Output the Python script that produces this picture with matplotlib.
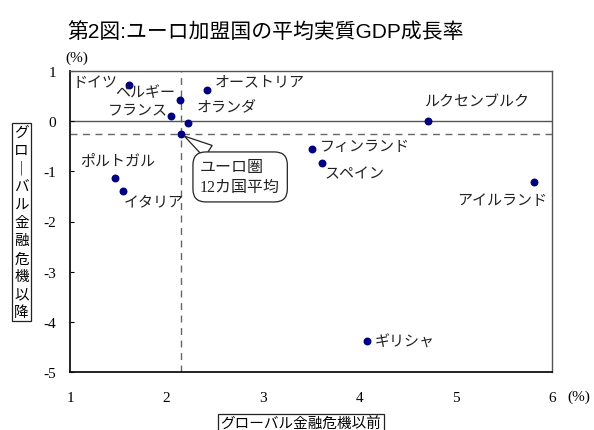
import matplotlib.pyplot as plt

# 各国データ（グローバル金融危機以前 / 以降の平均実質GDP成長率, %）
countries = ['ドイツ', 'ベルギー', 'フランス', 'オランダ', 'オーストリア', 'ポルトガル',
             'イタリア', 'ルクセンブルク', 'フィンランド', 'スペイン', 'アイルランド', 'ギリシャ']
before = [1.61, 2.14, 2.05, 2.22, 2.42, 1.47, 1.55, 4.71, 3.51, 3.61, 5.81, 4.08]
after = [0.73, 0.43, 0.10, -0.04, 0.63, -1.14, -1.40, 0.00, -0.55, -0.84, -1.22, -4.38]

# ユーロ圏12カ国平均
euro_before = 2.15
euro_after = -0.25

x_ticks = [1, 2, 3, 4, 5, 6]
y_ticks = [1, 0, -1, -2, -3, -4, -5]

# ラベル位置（データ座標, 左端・中央）
label_pos = {
    'ドイツ': (1.03, 0.77),
    'ベルギー': (1.47, 0.59),
    'フランス': (1.39, 0.23),
    'オランダ': (2.31, 0.27),
    'オーストリア': (2.50, 0.79),
    'ポルトガル': (1.10, -0.79),
    'イタリア': (1.56, -1.61),
    'ルクセンブルク': (4.68, 0.39),
    'フィンランド': (3.59, -0.51),
    'スペイン': (3.64, -1.05),
    'アイルランド': (5.02, -1.59),
    'ギリシャ': (4.16, -4.40),
}

jp = ['Liberation Serif', 'Noto Sans CJK JP']
plt.rcParams['font.family'] = jp

fig = plt.figure(figsize=(5.94, 4.31), dpi=100)
ax = fig.add_axes([70 / 594, 1 - 372.7 / 431, 482 / 594, 300.4 / 431])

ax.set_xlim(1, 6)
ax.set_ylim(-5, 1)

ax.axhline(0, color='#555555', lw=1.0, zorder=1)
ax.axhline(euro_after, color='#666666', lw=1.0, ls=(0, (5, 4)), zorder=1)
ax.axvline(euro_before, color='#666666', lw=1.0, ls=(0, (5, 4)), zorder=1)

ax.scatter(before, after, s=22, color='#000080', zorder=3)
ax.scatter([euro_before], [euro_after], s=22, color='#000080', zorder=3)

for name in countries:
    lx, ly = label_pos[name]
    ax.text(lx, ly, name, fontsize=10.8, ha='left', va='center', color='#222222')

# 吹き出し
ax.annotate('ユーロ圏\n12カ国平均', xy=(euro_before, euro_after), xytext=(2.35, -1.11),
            fontsize=11.5, ha='left', va='center', color='#222222', linespacing=1.3,
            bbox=dict(boxstyle='round,pad=0.45,rounding_size=0.8', fc='white', ec='#222222', lw=0.9),
            arrowprops=dict(arrowstyle='wedge,tail_width=0.9,shrink_factor=0.5',
                            fc='white', ec='#222222', lw=0.9, shrinkA=0, shrinkB=3,
                            relpos=(0.25, 1.0)),
            zorder=4)

ax.set_xticks(x_ticks)
ax.set_yticks(y_ticks)
ax.set_xticklabels([str(v) for v in x_ticks], fontsize=11)
ax.set_yticklabels([str(v) for v in y_ticks], fontsize=11)
ax.tick_params(axis='x', length=0, pad=14)
ax.tick_params(axis='y', direction='in', length=3, pad=10)

for side in ['left', 'bottom']:
    ax.spines[side].set_color('#111111')
    ax.spines[side].set_linewidth(1.3)
for side in ['top', 'right']:
    ax.spines[side].set_color('#555555')
    ax.spines[side].set_linewidth(1.0)

fig.text(266 / 594, 1 - 32 / 431, '第2図:ユーロ加盟国の平均実質GDP成長率',
         fontsize=15, fontweight='normal', ha='center', va='center',
         family=['Liberation Sans', 'Noto Sans CJK JP'])
fig.text(77 / 594, 1 - 58 / 431, '(%)', fontsize=11, ha='center', va='center')
fig.text(579 / 594, 1 - 397 / 431, '(%)', fontsize=11, ha='center', va='center')

box = dict(boxstyle='square,pad=0.15', fc='white', ec='#222222', lw=0.9)
fig.text(21.5 / 594, 1 - 223 / 431, '\n'.join('グロ｜バル金融危機以降'),
         fontsize=10.5, ha='center', va='center', linespacing=1.36, bbox=box,
         family=['Noto Sans CJK JP'])
fig.text(301 / 594, 1 - 424 / 431, 'グローバル金融危機以前',
         fontsize=10.5, ha='center', va='center', bbox=box, family=['Noto Sans CJK JP'])

fig.savefig('out.png', dpi=100)
